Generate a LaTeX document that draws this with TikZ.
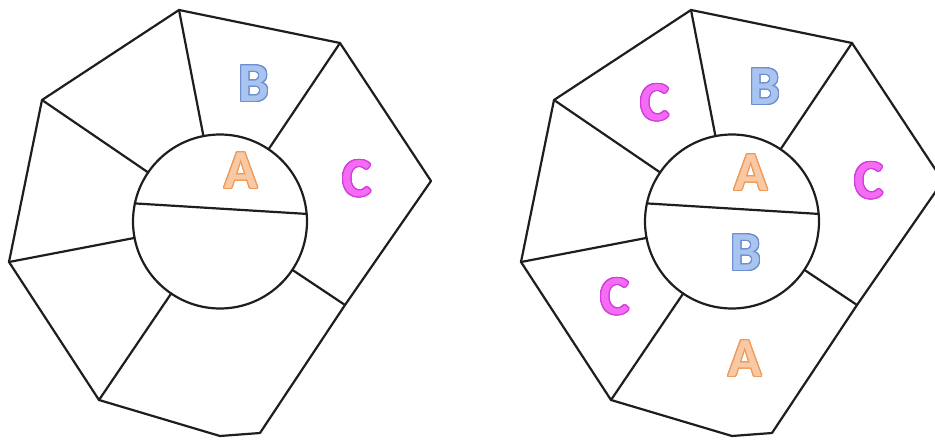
\documentclass[tikz,border=0pt]{standalone}
\usepackage{fontspec}
\setmainfont{Carlito}
\usepackage{contour}
\contourlength{1.2pt}
\definecolor{bfill}{HTML}{A9C4EE}
\definecolor{bline}{HTML}{6E8ED2}
\definecolor{afill}{HTML}{F9C8A4}
\definecolor{aline}{HTML}{EF9A58}
\definecolor{cfill}{HTML}{F46CF4}
\definecolor{cline}{HTML}{D23CDA}
\definecolor{ink}{HTML}{1E1E1E}
\tikzset{
  edge/.style={draw=ink, line width=2.2pt, line join=round, line cap=round},
  hub/.style={circle, draw=ink, line width=2.2pt, minimum size=174pt, inner sep=0pt, outer sep=0pt},
  lblA/.style={inner sep=0pt, font=\bfseries\fontsize{55}{55}\selectfont},
}
\newcommand{\lA}{\contour{aline}{\textcolor{afill}{A}}}
\newcommand{\lB}{\contour{bline}{\textcolor{bfill}{B}}}
\newcommand{\lC}{\contour{cline}{\textcolor{cfill}{C}}}
\newcommand{\ringshape}[1]{%
  \coordinate (#1t) at (179,10);
  \coordinate (#1ur) at (340,43);
  \coordinate (#1r) at (431,181);
  \coordinate (#1lr) at (345,305);
  \coordinate (#1b2) at (260,433);
  \coordinate (#1b1) at (220,436);
  \coordinate (#1ll) at (99,400);
  \coordinate (#1l) at (9,262);
  \coordinate (#1ul) at (42,100);
  \node[hub] (#1c) at (220,221.5) {};
  \draw[edge] (#1t) -- (#1ur) -- (#1r) -- (#1lr) -- (#1b2) -- (#1b1) -- (#1ll) -- (#1l) -- (#1ul) -- cycle;
  \draw[edge] (#1c.168) -- (#1c.5.6);
  \foreach \v in {t,ur,lr,ll,l,ul} { \draw[edge] (#1\v) -- (#1c); }
}
\begin{document}
\begin{tikzpicture}[x=1pt,y=-1pt]
\useasboundingbox (0,0) rectangle (935,441);
\begin{scope}
  \ringshape{L}
\end{scope}
\begin{scope}[xshift=512pt]
  \ringshape{R}
\end{scope}
\node[lblA] (LB) at (254,84) {\lB};
\node[lblA] (LA) at (241,171) {\lA};
\node[lblA] (LC) at (357,179) {\lC};
\node[lblA] (RC1) at (655,103) {\lC};
\node[lblA] (RB1) at (765,87) {\lB};
\node[lblA] (RA1) at (751,173) {\lA};
\node[lblA] (RC2) at (869,181) {\lC};
\node[lblA] (RB2) at (746,253) {\lB};
\node[lblA] (RC3) at (615,297) {\lC};
\node[lblA] (RA2) at (745,359) {\lA};
\end{tikzpicture}
\end{document}
